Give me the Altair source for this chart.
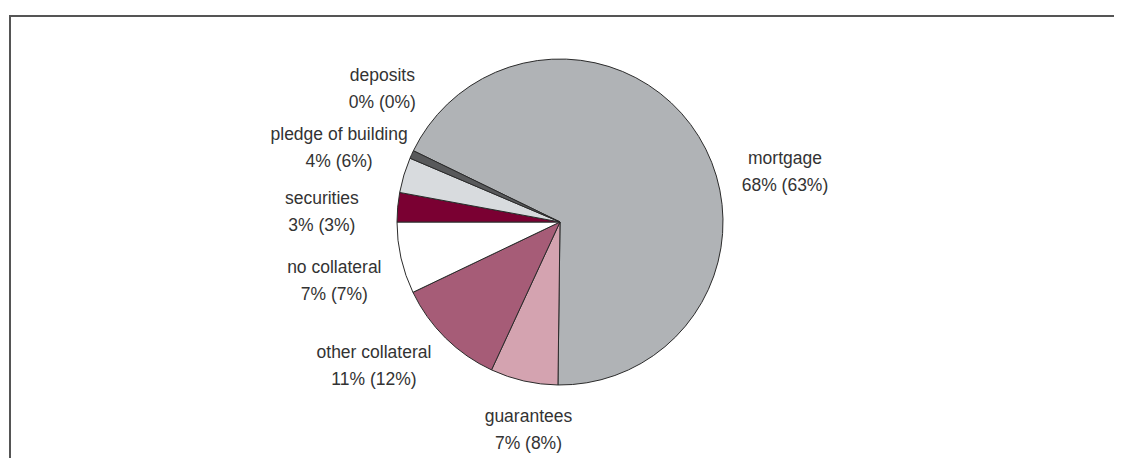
import math
import altair as alt
import pandas as pd

# ---- data ----
categories = ["mortgage", "guarantees", "other collateral", "no collateral",
              "securities", "pledge of building", "deposits"]
shares = [68.0, 6.7, 11.0, 7.1, 2.9, 3.5, 0.8]
share_labels = ["68% (63%)", "7% (8%)", "11% (12%)", "7% (7%)",
                "3% (3%)", "4% (6%)", "0% (0%)"]

# ---- styles / layout ----
colors = ["#b0b3b6", "#d4a3b0", "#a65c77", "#ffffff",
          "#7a0032", "#d8dbde", "#58595b"]
START = math.radians(-64.08)          # pie rotation (first slice start)
PIE_R = 163
LABEL_R = 215
FONT = "Liberation Sans"
LINE_H = 27
# per-label layout nudges (dx, dy) from the mid-angle anchor (block centre)
nudge = {
    "mortgage": (42, 63),
    "guarantees": (16, -1),
    "other collateral": (-35, -8),
    "no collateral": (-16, 12),
    "securities": (-24, 10),
    "pledge of building": (-15, -12),
    "deposits": (18, -43),
}

df = pd.DataFrame({
    "category": categories,
    "share": shares,
    "idx": list(range(len(categories))),
    "label": [f"{c}\n{v}" for c, v in zip(categories, share_labels)],
})

total = float(sum(shares))
theta_scale = alt.Scale(domain=[0, total], range=[START, START + 2 * math.pi], nice=False, zero=True)

base = alt.Chart(df).transform_stack(
    stack="share", as_=["s0", "s1"], groupby=[], sort=[alt.SortField("idx", order="ascending")]
).transform_calculate(mid="(datum.s0 + datum.s1) / 2")

pie = base.mark_arc(radius=PIE_R, stroke="#2b2b2b", strokeWidth=1).encode(
    theta=alt.Theta("s0:Q", scale=theta_scale),
    theta2="s1:Q",
    color=alt.Color("category:N", scale=alt.Scale(domain=categories, range=colors), legend=None),
)

labels = []
for c in categories:
    dx, dy = nudge[c]
    labels.append(
        base.transform_filter(alt.datum.category == c).mark_text(
            radius=LABEL_R, dx=dx, dy=dy - LINE_H / 2, font=FONT, fontSize=17.5, color="#333333",
            align="center", baseline="middle", lineBreak="\n", lineHeight=LINE_H,
        ).encode(
            theta=alt.Theta("mid:Q", scale=theta_scale),
            text="label:N",
        )
    )

frame_df = pd.DataFrame({"f": [0]})
top_rule = alt.Chart(frame_df).mark_rule(color="#555555", strokeWidth=2).encode(
    x=alt.value(1), x2=alt.value(1106), y=alt.value(8)
)
left_rule = alt.Chart(frame_df).mark_rule(color="#555555", strokeWidth=2).encode(
    x=alt.value(2), y=alt.value(7), y2=alt.value(450)
)

chart = alt.layer(top_rule, left_rule, pie, *labels).properties(
    width=1104, height=428,
    background="white",
    autosize=alt.AutoSizeParams(type="none"),
    padding={"left": 0, "top": 0, "right": 2, "bottom": 22},
).configure_view(stroke=None)

chart.save("out.html", embed_options={"renderer": "svg", "actions": False})
